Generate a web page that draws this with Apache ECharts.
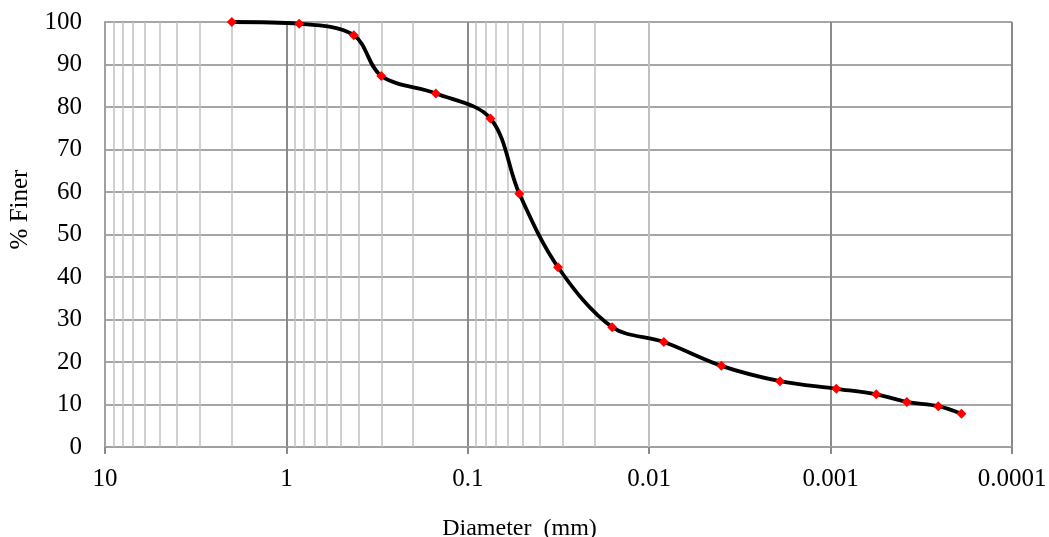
<!DOCTYPE html>
<html>
<head>
<meta charset="utf-8">
<script src="https://cdn.jsdelivr.net/npm/echarts@6/dist/echarts.min.js"></script>
<style>html,body{margin:0;padding:0;background:#fff;}#c{width:1049px;height:537px;}</style>
</head>
<body>
<div id="c"></div>
<script>
// Diameter (mm)
var diameters = [2.0, 0.85, 0.425, 0.3, 0.15, 0.075, 0.052, 0.0318, 0.016, 0.0083, 0.0040, 0.0019, 0.00093, 0.00056, 0.00038, 0.000255, 0.00019];
// % Finer
var percentFiner = [100, 99.6, 96.9, 87.3, 83.2, 77.3, 59.6, 42.3, 28.2, 24.7, 19.1, 15.5, 13.7, 12.4, 10.6, 9.6, 7.8];
// x tick labels (decades)
var xTickLabels = ['0.0001', '0.001', '0.01', '0.1', '1', '10'];
var xTickValues = [0.0001, 0.001, 0.01, 0.1, 1, 10];
// minor gridline multipliers per decade
var minorMultipliers = [2, 3, 4, 5, 6, 7, 8, 9];

var points = diameters.map(function (d, i) { return [d, percentFiner[i]]; });

var minorLines = [];
xTickValues.slice(0, 5).forEach(function (dec) {
  minorMultipliers.forEach(function (m) {
    minorLines.push({ xAxis: dec * m });
  });
});

var font = '"Liberation Serif", "Times New Roman", serif';
var chart = echarts.init(document.getElementById('c'));
chart.setOption({
  animation: false,
  backgroundColor: '#fff',
  grid: { left: 105, right: 37, top: 22, bottom: 90, containLabel: false, outerBoundsMode: 'none' },
  xAxis: {
    type: 'log',
    logBase: 10,
    inverse: true,
    min: 0.0001,
    max: 10,
    interval: 1,
    name: 'Diameter  (mm)',
    nameLocation: 'middle',
    nameGap: 70,
    nameTextStyle: { fontFamily: font, fontSize: 24, color: '#000', padding: [0, 78, 0, 0] },
    axisLine: { show: true, lineStyle: { color: '#a0a0a0', width: 2 } },
    axisTick: { show: true, length: 7, lineStyle: { color: '#8a8a8a', width: 2 } },
    axisLabel: {
      fontFamily: font, fontSize: 25, color: '#000', margin: 20,
      formatter: function (v) {
        var k = Math.round(Math.log10(v));
        var idx = xTickValues.findIndex(function (t) { return Math.round(Math.log10(t)) === k; });
        return idx >= 0 ? xTickLabels[idx] : '';
      }
    },
    splitLine: { show: true, lineStyle: { color: '#8a8a8a', width: 2 } },
    minorTick: { show: false },
    minorSplitLine: { show: false }
  },
  yAxis: {
    type: 'value',
    min: 0,
    max: 100,
    interval: 10,
    name: '% Finer',
    nameLocation: 'middle',
    nameGap: 72,
    nameRotate: 90,
    nameTextStyle: { fontFamily: font, fontSize: 25, color: '#000', padding: [0, 0, 0, 50] },
    axisLine: { show: true, lineStyle: { color: '#a0a0a0', width: 2 } },
    axisTick: { show: false },
    axisLabel: { fontFamily: font, fontSize: 25, color: '#000', margin: 23 },
    splitLine: { show: true, lineStyle: { color: '#a6a6a6', width: 2 } }
  },
  series: [{
    type: 'line',
    data: points,
    smooth: 0.34,
    symbol: 'diamond',
    symbolSize: 10,
    itemStyle: { color: '#ff0000' },
    lineStyle: { color: '#000', width: 3.8 },
    z: 5,
    markLine: {
      silent: true,
      symbol: ['none', 'none'],
      label: { show: false },
      lineStyle: { color: '#c0c0c0', width: 1.5, type: 'solid' },
      data: minorLines,
      z: 1
    }
  }]
});
</script>
</body>
</html>
